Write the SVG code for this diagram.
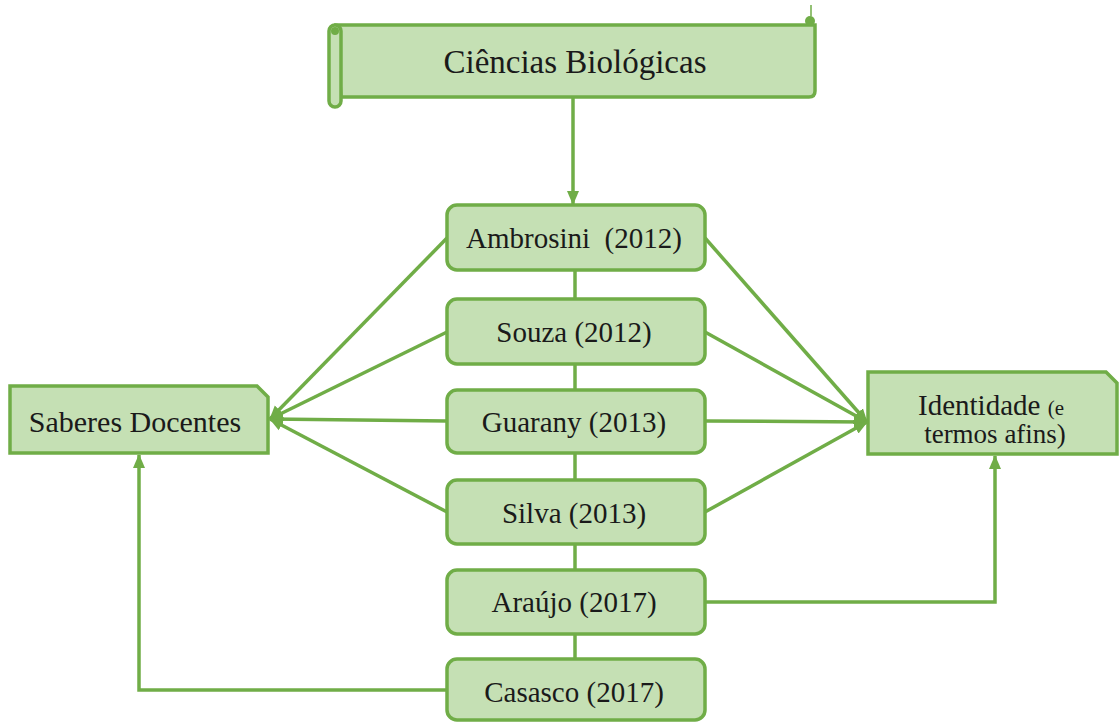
<svg xmlns="http://www.w3.org/2000/svg" width="1120" height="722" viewBox="0 0 1120 722">
<defs>
<style>
.box{fill:#c5e0b4;stroke:#70ad47;stroke-width:3.5}
.ln{fill:none;stroke:#70ad47;stroke-width:3.5}
</style>
<marker id="ah" markerUnits="userSpaceOnUse" markerWidth="14" markerHeight="14" viewBox="0 0 14 14" refX="13" refY="7" orient="auto">
<path d="M0,1 L14,7 L0,13 Z" fill="#70ad47"/>
</marker>
</defs>
<rect width="1120" height="722" fill="#ffffff"/>

<g id="connectors">
<line class="ln" x1="573" y1="97" x2="573" y2="204" marker-end="url(#ah)"/>
<line class="ln" x1="575" y1="270" x2="575" y2="299"/>
<line class="ln" x1="575" y1="364" x2="575" y2="390"/>
<line class="ln" x1="575" y1="453" x2="575" y2="480"/>
<line class="ln" x1="575" y1="544" x2="575" y2="570"/>
<line class="ln" x1="575" y1="634" x2="575" y2="659"/>
<line class="ln" x1="447" y1="238" x2="270" y2="419" marker-end="url(#ah)"/>
<line class="ln" x1="447" y1="332" x2="270" y2="419" marker-end="url(#ah)"/>
<line class="ln" x1="447" y1="421" x2="270" y2="419" marker-end="url(#ah)"/>
<line class="ln" x1="447" y1="512" x2="270" y2="419" marker-end="url(#ah)"/>
<line class="ln" x1="705" y1="238" x2="867" y2="422" marker-end="url(#ah)"/>
<line class="ln" x1="705" y1="332" x2="867" y2="422" marker-end="url(#ah)"/>
<line class="ln" x1="705" y1="421" x2="867" y2="422" marker-end="url(#ah)"/>
<line class="ln" x1="705" y1="512" x2="867" y2="422" marker-end="url(#ah)"/>
<polyline class="ln" points="447,690 139,690 139,455" marker-end="url(#ah)"/>
<polyline class="ln" points="705,602 995,602 995,456" marker-end="url(#ah)"/>
</g>

<g font-family="Liberation Serif, Times New Roman, DejaVu Serif, serif" font-size="29" fill="#1a1a1a" text-anchor="middle">
<g id="ciencias">
<path class="box" d="M336,25 L815,25 L815,91 Q815,97 809,97 L341,97 Z"/>
<rect class="box" x="329" y="25" width="12" height="82" rx="6"/>
<circle cx="335" cy="31" r="4" fill="#70ad47"/>
<circle cx="810" cy="21" r="5" fill="#70ad47"/>
<line x1="811" y1="16" x2="811" y2="5" stroke="#70ad47" stroke-width="1.5"/>
<text x="575" y="73" font-size="33">Ciências Biológicas</text>
</g>

<g id="ambrosini">
<rect class="box" x="447" y="205" width="258" height="65" rx="10"/>
<text x="574" y="248" xml:space="preserve">Ambrosini  (2012)</text>
</g>
<g id="souza">
<rect class="box" x="447" y="299" width="258" height="65" rx="10"/>
<text x="574" y="342">Souza (2012)</text>
</g>
<g id="guarany">
<rect class="box" x="447" y="390" width="258" height="63" rx="10"/>
<text x="574" y="432">Guarany (2013)</text>
</g>
<g id="silva">
<rect class="box" x="447" y="480" width="258" height="64" rx="10"/>
<text x="574" y="523">Silva (2013)</text>
</g>
<g id="araujo">
<rect class="box" x="447" y="570" width="258" height="64" rx="10"/>
<text x="574" y="612">Araújo (2017)</text>
</g>
<g id="casasco">
<rect class="box" x="447" y="659" width="258" height="61" rx="10"/>
<text x="574" y="702">Casasco (2017)</text>
</g>

<g id="saberes">
<path class="box" d="M10,386 L257,386 L268,397 L268,453 L10,453 Z"/>
<text x="135" y="432" font-size="30">Saberes Docentes</text>
</g>

<g id="identidade">
<path class="box" d="M868,372 L1106,372 L1117,383 L1117,454 L868,454 Z"/>
<text x="991" y="415">Identidade <tspan font-size="21">(e</tspan></text>
<text x="995" y="443" font-size="27">termos afins)</text>
</g>
</g>
</svg>
